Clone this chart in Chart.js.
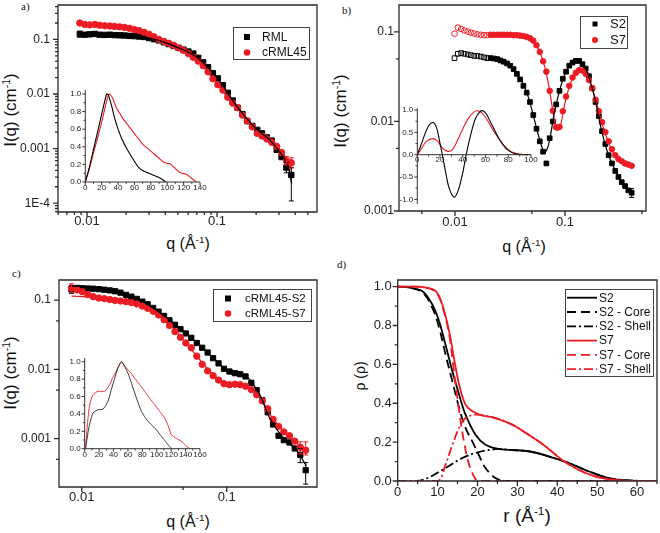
<!DOCTYPE html>
<html><head><meta charset="utf-8">
<script src="https://cdn.jsdelivr.net/npm/chart.js@4.4.0/dist/chart.umd.min.js"></script>
<style>
body{margin:0;background:#fff;}
#wrap{position:relative;width:660px;height:533px;overflow:hidden;font-family:"Liberation Sans",Arial,sans-serif;background:#fff;}
canvas{position:absolute;left:0;top:0;}
.t{position:absolute;white-space:nowrap;color:#111;transform:translate(-50%,-50%);line-height:1;}
.rot{transform:translate(-50%,-50%) rotate(-90deg);}
.sup{font-size:0.62em;position:relative;top:-0.6em;}
.pl{position:absolute;font-family:"Liberation Serif","Times New Roman",serif;font-size:11px;color:#111;line-height:1;}
</style></head>
<body><div id="wrap">
<div class="pl" style="left:21px;top:1px">a)</div>
<div class="pl" style="left:342px;top:5px">b)</div>
<div class="pl" style="left:12px;top:268px">c)</div>
<div class="pl" style="left:337px;top:259px">d)</div>
<div class="t rot" style="left:10px;top:110px;font-size:17px">I(q) (cm<span class="sup">-1</span>)</div>
<div class="t" style="left:188px;top:244px;font-size:16px">q (Å<span class="sup">-1</span>)</div>
<div class="t rot" style="left:340px;top:111px;font-size:17px">I(q) (cm<span class="sup">-1</span>)</div>
<div class="t" style="left:524px;top:247px;font-size:16px">q (Å<span class="sup">-1</span>)</div>
<div class="t rot" style="left:10px;top:373px;font-size:17px">I(q) (cm<span class="sup">-1</span>)</div>
<div class="t" style="left:188px;top:522px;font-size:16px">q (Å<span class="sup">-1</span>)</div>
<div class="t rot" style="left:360px;top:376px;font-size:14px">ρ (ρ)</div>
<div class="t" style="left:527px;top:515px;font-size:19px">r (Å<span class="sup">-1</span>)</div>
</div>
<script>
// ================= DATA =================
// ---- Panel a: RML / cRML45 ----
const qA = [0.0088,0.0096,0.0105,0.0115,0.0125,0.0137,0.015,0.0163,0.0178,0.0194,0.0212,0.0231,0.0252,0.0275,0.03,0.0327,0.0357,0.039,0.0425,0.0464,0.0506,0.0552,0.0602,0.0657,0.0717,0.0782,0.0853,0.093,0.1015,0.111,0.121,0.132,0.144,0.157,0.171,0.187,0.204,0.222,0.242,0.264,0.288,0.314,0.342,0.373];
const rmlA = [0.125,0.122,0.124,0.126,0.122,0.121,0.122,0.120,0.119,0.118,0.116,0.115,0.113,0.111,0.106,0.101,0.096,0.089,0.082,0.076,0.070,0.065,0.060,0.055,0.046,0.038,0.031,0.024,0.0193,0.0145,0.0105,0.0076,0.0056,0.0043,0.0032,0.0026,0.0022,0.0019,0.0016,0.0014,0.00095,0.0007,0.00045,0.00033];
const crmlA = [0.200,0.188,0.185,0.188,0.182,0.178,0.176,0.173,0.170,0.166,0.160,0.152,0.145,0.135,0.124,0.112,0.100,0.092,0.085,0.078,0.070,0.063,0.055,0.047,0.040,0.033,0.0255,0.019,0.0148,0.0118,0.0087,0.0068,0.0056,0.0041,0.0032,0.0025,0.0019,0.0017,0.0015,0.0013,0.0011,0.00085,0.0006,0.00055];
const qFitA = [0.0088,0.015,0.025,0.035,0.05,0.07,0.1,0.13,0.16,0.2,0.25,0.3,0.35,0.375];
const rmlFitA = [0.122,0.12,0.113,0.097,0.071,0.047,0.020,0.008,0.0042,0.0023,0.0015,0.0009,0.0005,0.00023];
const crmlFitA = [0.195,0.175,0.146,0.102,0.071,0.042,0.0155,0.0072,0.0042,0.0023,0.0014,0.001,0.0006,0.0004];
const errRmlA = [[0.0088,0.110,0.142],[0.342,0.00036,0.00056],[0.373,0.00011,0.00045]];
const errCrmlA = [[0.0088,0.186,0.214],[0.342,0.0005,0.00072],[0.373,0.00044,0.00068]];
const aXTickVals = [0.01,0.1], aXTickLbls = ['0.01','0.1'];
const aYTickVals = [1e-4,1e-3,0.01,0.1], aYTickLbls = ['1E-4','0.001','0.01','0.1'];
const aLegend = ['RML','cRML45'];
// inset a : p(r)
const rInA_RML = [0,5,10,15,20,26,28,32,36,40,45,50,55,60,65,70,75,80,85,90,95,98];
const pInA_RML = [0,0.17,0.37,0.57,0.77,1.0,0.99,0.87,0.72,0.6,0.48,0.39,0.31,0.235,0.165,0.13,0.11,0.09,0.07,0.05,0.023,0];
const rInA_C45 = [0,5,10,15,20,25,29,33,38,42,46,50,55,60,65,70,75,80,85,90,95,100,103,108,115,120,124,130,136];
const pInA_C45 = [0,0.15,0.33,0.5,0.68,0.88,1.0,0.96,0.84,0.78,0.72,0.67,0.61,0.55,0.49,0.43,0.39,0.35,0.31,0.27,0.23,0.21,0.21,0.17,0.11,0.095,0.085,0.04,0];
const inAXVals = [0,20,40,60,80,100,120,140], inAXLbls = ['0','20','40','60','80','100','120','140'];
const inAYVals = [0,0.2,0.4,0.6,0.8,1.0], inAYLbls = ['0.0','0.2','0.4','0.6','0.8','1.0'];

// ---- Panel b: S2 / S7 ----
const qB = [0.00991,0.01062,0.01138,0.01219,0.01306,0.01396,0.01496,0.01603,0.01718,0.01841,0.01968,0.02109,0.0226,0.02421,0.02594,0.02773,0.02972,0.03184,0.03412,0.03656,0.03908,0.04188,0.04487,0.04808,0.05152,0.05508,0.05902,0.06324,0.06776,0.07261,0.07762,0.08318,0.08913,0.0955,0.1023,0.1094,0.1172,0.1256,0.1346,0.1442,0.1542,0.1652,0.177,0.1897,0.2032,0.2173,0.2328,0.2495,0.2673,0.2864,0.3062,0.3281,0.3516,0.3767,0.4036];
const s2B = [0.051,0.057,0.058,0.057,0.056,0.055,0.054,0.054,0.053,0.052,0.051,0.051,0.0505,0.0497,0.048,0.0465,0.0445,0.042,0.0385,0.034,0.0295,0.025,0.021,0.0165,0.0118,0.0083,0.006,0.0046,0.0034,0.0065,0.0100,0.0155,0.022,0.030,0.036,0.042,0.0455,0.0475,0.0475,0.0437,0.039,0.032,0.0235,0.0165,0.0115,0.0078,0.0056,0.0042,0.0034,0.0028,0.0024,0.0021,0.0019,0.0017,0.0016];
const s7B = [0.0957,0.112,0.108,0.104,0.101,0.098,0.096,0.094,0.093,0.092,0.092,0.093,0.093,0.093,0.093,0.093,0.093,0.093,0.092,0.092,0.091,0.090,0.088,0.085,0.080,0.071,0.060,0.047,0.036,0.022,0.0132,0.0086,0.0087,0.013,0.019,0.025,0.031,0.035,0.0375,0.037,0.034,0.029,0.0235,0.0175,0.013,0.0098,0.0076,0.006,0.0049,0.0042,0.0038,0.0036,0.0034,0.0033,0.0032];
const bOpenCount = 11;
const qFitS2B = [0.02,0.03,0.04,0.045,0.05,0.055,0.06,0.065,0.07,0.075,0.08,0.09,0.1,0.11,0.12,0.13,0.14,0.155,0.17,0.19,0.21,0.24,0.28,0.33,0.4];
const fitS2B = [0.051,0.0437,0.029,0.021,0.0135,0.0085,0.0058,0.0045,0.0052,0.0078,0.0125,0.023,0.034,0.042,0.0465,0.0476,0.0455,0.038,0.028,0.0165,0.009,0.0048,0.003,0.0021,0.00163];
const qFitS7B = [0.02,0.03,0.04,0.045,0.05,0.055,0.06,0.065,0.07,0.075,0.08,0.085,0.09,0.1,0.11,0.12,0.13,0.14,0.155,0.17,0.19,0.21,0.24,0.28,0.33,0.4];
const fitS7B = [0.092,0.093,0.091,0.088,0.082,0.071,0.057,0.042,0.028,0.017,0.0105,0.008,0.0085,0.016,0.025,0.032,0.0365,0.0375,0.034,0.027,0.0175,0.011,0.0065,0.0043,0.0036,0.0032];
const errS2B = [[0.4036,0.00142,0.00178]];
const bXTickVals = [0.01,0.1], bXTickLbls = ['0.01','0.1'];
const bYTickVals = [1e-3,0.01,0.1], bYTickLbls = ['0.001','0.01','0.1'];
const bLegend = ['S2','S7'];
// inset b
const rInB_S2 = [0,3,6.5,10,13.8,17,20,22,25,28,32.3,36,40,43,47,51,55,57.8,61,65,68,72,77,81,86,90,97];
const pInB_S2 = [0,0.2,0.45,0.65,0.72,0.6,0.25,0,-0.4,-0.75,-0.95,-0.8,-0.4,0,0.45,0.8,0.96,0.985,0.9,0.7,0.55,0.35,0.17,0.08,0.02,0.005,0];
const rInB_S7 = [0,4,8,13.8,18,22,27,31,35,40,45,50,53.4,57,61,65,70,74,78,83,88,93,99];
const pInB_S7 = [0,0.15,0.3,0.36,0.3,0.15,0.075,0.12,0.3,0.58,0.82,0.96,0.985,0.93,0.8,0.62,0.42,0.28,0.16,0.06,0.02,0.005,0];
const inBXVals = [0,20,40,60,80,100], inBXLbls = ['0','20','40','60','80','100'];
const inBYVals = [-1,-0.5,0,0.5,1], inBYLbls = ['-1.0','-0.5','0.0','0.5','1.0'];

// ---- Panel c: cRML45-S2 / cRML45-S7 ----
const qC = [0.0085,0.0093,0.0101,0.011,0.012,0.0131,0.0143,0.0156,0.017,0.0185,0.0202,0.022,0.024,0.0262,0.0285,0.0311,0.0339,0.037,0.0403,0.044,0.048,0.0523,0.057,0.0622,0.0678,0.0739,0.0806,0.0879,0.0958,0.1045,0.114,0.124,0.135,0.148,0.161,0.176,0.192,0.209,0.228,0.248,0.271,0.295,0.322,0.351];
const s2C = [0.142,0.150,0.148,0.147,0.146,0.144,0.141,0.138,0.134,0.128,0.119,0.112,0.104,0.095,0.087,0.077,0.068,0.059,0.051,0.044,0.038,0.033,0.0285,0.024,0.0205,0.0175,0.0145,0.0122,0.0102,0.0093,0.0088,0.0085,0.0079,0.0064,0.005,0.0036,0.0024,0.0016,0.0011,0.00095,0.00088,0.00072,0.00058,0.00035];
const s7C = [0.150,0.140,0.132,0.120,0.112,0.107,0.105,0.102,0.099,0.097,0.095,0.092,0.088,0.082,0.076,0.069,0.061,0.052,0.043,0.035,0.029,0.024,0.0205,0.0155,0.0118,0.0095,0.0081,0.0070,0.0062,0.0060,0.0061,0.0060,0.0057,0.0051,0.0043,0.0035,0.0027,0.0019,0.0015,0.00125,0.0011,0.00092,0.00075,0.00068];
const qFitC = [0.0085,0.012,0.017,0.024,0.033,0.045,0.06,0.08,0.1,0.12,0.14,0.17,0.2,0.25,0.3,0.355];
const fitS2C = [0.16,0.152,0.137,0.106,0.071,0.043,0.026,0.0148,0.0098,0.0087,0.0076,0.0042,0.0019,0.00098,0.0007,0.0004];
const fitS7C = [0.114,0.111,0.104,0.092,0.066,0.035,0.017,0.0085,0.0063,0.006,0.0056,0.0039,0.0022,0.00125,0.0009,0.0006];
const errS2C = [[0.0085,0.125,0.16],[0.322,0.00045,0.00072],[0.351,0.00022,0.00045]];
const errS7C = [[0.0085,0.13,0.172],[0.322,0.0006,0.0009],[0.351,0.00058,0.0009]];
const cXTickVals = [0.01,0.1], cXTickLbls = ['0.01','0.1'];
const cYTickVals = [1e-3,0.01,0.1], cYTickLbls = ['0.001','0.01','0.1'];
const cLegend = ['cRML45-S2','cRML45-S7'];
// inset c
const rInC_S2 = [0,1,6,11.5,18.5,25.4,32.3,37,41.6,46,50.9,55,60.1,65,69.4,74,78.7,83,87.9,92,97.2,102,106.4,111,115.7,120.3];
const pInC_S2 = [0,0,0.25,0.41,0.448,0.455,0.544,0.68,0.81,0.93,1.0,0.95,0.867,0.75,0.64,0.53,0.43,0.37,0.315,0.28,0.238,0.19,0.143,0.095,0.046,0];
const rInC_S7 = [0,1,4,6.9,11.5,18.5,27.8,34.7,39,43.9,50.9,55,60.1,65,69.4,76,83.3,90,97.2,104,111,116,120.3,127,134.2,140,145.8];
const pInC_S7 = [0,0,0.3,0.505,0.62,0.66,0.66,0.736,0.82,0.89,1.0,0.96,0.905,0.86,0.81,0.74,0.66,0.58,0.505,0.43,0.353,0.26,0.161,0.12,0.085,0.04,0];
const inCXVals = [0,20,40,60,80,100,120,140,160], inCXLbls = ['0','20','40','60','80','100','120','140','160'];
const inCYVals = [0,0.2,0.4,0.6,0.8,1.0], inCYLbls = ['0.0','0.2','0.4','0.6','0.8','1.0'];

// ---- Panel d: density profiles ----
const rD_S2 = [0,3,6.2,8.7,10.4,12,13.7,15.4,17,19.5,22,25.3,28,32.8,37.8,42.8,47.8,52.8,57.8,62,65];
const pD_S2 = [1,0.995,0.976,0.907,0.82,0.70,0.565,0.444,0.341,0.238,0.187,0.165,0.16,0.153,0.127,0.093,0.05,0.015,0.003,0,0];
const rD_S2core = [0,3,6.2,8.7,10.4,12,13.7,15.4,17,18.7,20.3,22,24.5,27,30,65];
const pD_S2core = [1,0.995,0.97,0.89,0.787,0.65,0.513,0.376,0.273,0.204,0.135,0.067,0.015,0,0,0];
const rD_S2shell = [0,4.7,7.9,12,16.2,20.3,25.3,28,32.8,37.8,42.8,47.8,52.8,57.8,65];
const pD_S2shell = [0,0,0.019,0.067,0.118,0.149,0.165,0.16,0.153,0.127,0.093,0.05,0.015,0.003,0];
const rD_S7 = [0,4,7.1,9.6,11.2,12.9,14.1,15.4,17,18.7,21.2,24.5,28.7,32.8,37,41.1,45.3,49.5,53.6,57.8,62,65];
const pD_S7 = [1,1,0.995,0.976,0.907,0.77,0.633,0.496,0.393,0.359,0.338,0.324,0.29,0.238,0.179,0.11,0.058,0.024,0.007,0,0,0];
const rD_S7core = [0,7.1,9.6,11.2,12.9,14.1,15.4,16.6,17.9,19.5,20.5,65];
const pD_S7core = [1,0.995,0.97,0.9,0.753,0.565,0.359,0.204,0.084,0.01,0,0];
const rD_S7shell = [0,10,12,13.7,15.4,17,19.5,21.2,24.5,28.7,32.8,37,41.1,45.3,49.5,53.6,57.8,65];
const pD_S7shell = [0,0,0.084,0.187,0.273,0.324,0.341,0.338,0.324,0.29,0.238,0.179,0.11,0.058,0.024,0.007,0,0];
const dXTickVals = [0,10,20,30,40,50,60], dXTickLbls = ['0','10','20','30','40','50','60'];
const dYTickVals = [0,0.2,0.4,0.6,0.8,1.0], dYTickLbls = ['0.0','0.2','0.4','0.6','0.8','1.0'];
const dLegend = ['S2','S2 - Core','S2 - Shell','S7','S7 - Core','S7 - Shell'];

// ================= RENDERING =================
Chart.defaults.font.family = '"Liberation Sans", Arial, sans-serif';
Chart.defaults.color = '#222';
const RED = '#ec1c24', BLK = '#000000';
const W = 660, H = 533;
const pts = (xs, ys) => xs.map((x, i) => ({x, y: ys[i]}));
function newCanvas(){ const c = document.createElement('canvas'); c.width = W; c.height = H; document.getElementById('wrap').appendChild(c); return c; }
function logTicks(min, max, mults){ const out = []; for (let e = Math.floor(Math.log10(min)) - 1; e <= Math.ceil(Math.log10(max)); e++){ for (const m of mults){ const v = Number((m * Math.pow(10, e)).toPrecision(6)); if (v >= min * 0.9999 && v <= max * 1.0001) out.push(v); } } return out; }
function linTicks(min, max, step){ const out = []; const n0 = Math.ceil(min / step - 1e-9), n1 = Math.floor(max / step + 1e-9); for (let n = n0; n <= n1; n++) out.push(Number((n * step).toFixed(6))); return out; }
function lblFor(vals, lbls){ return v => { for (let i = 0; i < vals.length; i++){ if (Math.abs(v - vals[i]) <= Math.abs(vals[i]) * 1e-6 + 1e-9) return lbls[i]; } return ''; }; }
function axis(o){
  const isLog = o.type === 'logarithmic';
  return {
    type: o.type, min: o.min, max: o.max, position: o.position,
    grid: {display: false, drawTicks: false}, border: {display: false},
    ticks: {autoSkip: false, maxRotation: 0, minRotation: 0, padding: o.pad, font: {size: o.fs}, color: o.color || '#222', callback: lblFor(o.vals, o.lbls)},
    afterBuildTicks: s => { const arr = isLog ? logTicks(o.min, o.max, o.minor) : linTicks(o.min, o.max, o.minor); s.ticks = arr.map(v => ({value: v})); },
    afterFit: s => { if (!o.floating){ if (o.dir === 'x') s.height = o.size; else s.width = o.size; } s.paddingTop = 0; s.paddingBottom = 0; s.paddingLeft = 0; s.paddingRight = 0; }
  };
}
const framePlugin = { id: 'frame', afterDatasetsDraw(chart, args, o){
  if (!o || !o.on) return;
  const ctx = chart.ctx, xs = chart.scales.x, ys = chart.scales.y, a = chart.chartArea;
  ctx.save(); ctx.strokeStyle = o.color; ctx.lineWidth = o.lw;
  const xAxisY = (o.xAt != null) ? ys.getPixelForValue(o.xAt) : a.bottom;
  ctx.beginPath();
  if (o.box){ ctx.rect(a.left, a.top, a.right - a.left, a.bottom - a.top); }
  else { ctx.moveTo(a.left, a.top); ctx.lineTo(a.left, a.bottom); ctx.moveTo(a.left, xAxisY); ctx.lineTo(a.right, xAxisY); }
  ctx.stroke();
  ctx.beginPath();
  for (const t of xs.ticks){ const p = xs.getPixelForValue(t.value); const len = t.label ? o.major : o.minor; ctx.moveTo(p, xAxisY); ctx.lineTo(p, xAxisY + len); }
  for (const t of ys.ticks){ const p = ys.getPixelForValue(t.value); const len = t.label ? o.major : o.minor; ctx.moveTo(a.left, p); ctx.lineTo(a.left - len, p); }
  ctx.stroke(); ctx.restore();
}};
const errPlugin = { id: 'errbars', afterDatasetsDraw(chart, args, o){
  if (!o || !o.sets) return;
  const ctx = chart.ctx, xs = chart.scales.x, ys = chart.scales.y;
  ctx.save(); ctx.lineWidth = 1;
  for (const s of o.sets){ ctx.strokeStyle = s.color; ctx.beginPath();
    for (const [x, lo, hi] of s.data){ const px = xs.getPixelForValue(x), p1 = ys.getPixelForValue(lo), p2 = ys.getPixelForValue(hi);
      ctx.moveTo(px, p1); ctx.lineTo(px, p2); ctx.moveTo(px - 2.5, p1); ctx.lineTo(px + 2.5, p1); ctx.moveTo(px - 2.5, p2); ctx.lineTo(px + 2.5, p2); }
    ctx.stroke(); }
  ctx.restore();
}};
const legendPlugin = { id: 'boxLegend', afterDraw(chart, args, o){
  if (!o || !o.items) return;
  const ctx = chart.ctx; ctx.save();
  ctx.fillStyle = '#fff'; ctx.fillRect(o.x, o.y, o.w, o.h);
  ctx.strokeStyle = '#444'; ctx.lineWidth = 1; ctx.strokeRect(o.x + 0.5, o.y + 0.5, o.w, o.h);
  ctx.font = o.fs + 'px "Liberation Sans", Arial, sans-serif'; ctx.textBaseline = 'middle';
  o.items.forEach((it, i) => {
    const cy = o.y + o.first + i * o.rowH;
    ctx.fillStyle = it.color; ctx.strokeStyle = it.color;
    if (it.kind === 'rect'){ ctx.fillRect(o.markX - it.s / 2, cy - it.s / 2, it.s, it.s); }
    else if (it.kind === 'circle'){ ctx.beginPath(); ctx.arc(o.markX, cy, it.s / 2, 0, Math.PI * 2); ctx.fill(); }
    else { ctx.lineWidth = 1.8; ctx.setLineDash(it.dash || []); ctx.beginPath(); ctx.moveTo(o.lineX0, cy); ctx.lineTo(o.lineX1, cy); ctx.stroke(); ctx.setLineDash([]); }
    ctx.fillStyle = '#111'; ctx.fillText(it.label, o.textX, cy + 0.5);
  });
  ctx.restore();
}};
function makeChart(c){
  const pad = {left: c.L - c.y.size, top: c.T, right: W - c.R, bottom: H - c.B - (c.x.floating ? 0 : c.x.size)};
  return new Chart(newCanvas(), {
    type: 'scatter',
    data: {datasets: c.datasets},
    options: {
      responsive: false, animation: false, devicePixelRatio: 1, events: [],
      layout: {padding: pad},
      scales: {x: axis(Object.assign({dir: 'x'}, c.x)), y: axis(Object.assign({dir: 'y'}, c.y))},
      plugins: {legend: {display: false}, tooltip: {enabled: false}, frame: c.frame, boxLegend: c.legend || {}, errbars: c.err || {}}
    },
    plugins: [framePlugin, errPlugin, legendPlugin]
  });
}
const scat = (data, color, style, r, bg) => ({data, showLine: false, pointStyle: style, pointRadius: r, pointBorderWidth: 1, pointBorderColor: color, pointBackgroundColor: bg || color, borderColor: color, backgroundColor: color});
const line = (data, color, w, dash, tension) => ({data, showLine: true, pointRadius: 0, borderColor: color, borderWidth: w, borderDash: dash || [], tension: tension == null ? 0.35 : tension, fill: false});
const mainFrame = {on: true, box: true, color: '#2a2a2a', lw: 1.3, major: 5, minor: 3};
const insetFrame = {on: true, box: false, color: '#333', lw: 1, major: 3, minor: 1.8};

// ---- a ----
makeChart({L: 58, T: 2, R: 317, B: 212,
  x: {type: 'logarithmic', min: 0.00598, max: 0.588, minor: [1,2,3,4,5,6,7,8,9], vals: aXTickVals, lbls: aXTickLbls, fs: 13, pad: 2, size: 20},
  y: {type: 'logarithmic', min: 6.9e-5, max: 0.427, minor: [1,2,3,4,5,6,7,8,9], vals: aYTickVals, lbls: aYTickLbls, fs: 12, pad: 8, size: 50},
  datasets: [line(pts(qFitA, rmlFitA), BLK, 1.3), line(pts(qFitA, crmlFitA), RED, 1.3),
    scat(pts(qA, crmlA), RED, 'circle', 3.2), scat(pts(qA, rmlA), BLK, 'rect', 3.8)],
  frame: mainFrame,
  err: {sets: [{color: BLK, data: errRmlA}, {color: RED, data: errCrmlA}]},
  legend: {x: 233, y: 27, w: 76, h: 32, first: 10, rowH: 15.5, fs: 12, markX: 247, textX: 262,
    items: [{label: aLegend[0], kind: 'rect', color: BLK, s: 6}, {label: aLegend[1], kind: 'circle', color: RED, s: 6.5}]}
});
makeChart({L: 85.3, T: 90, R: 200, B: 182,
  x: {type: 'linear', min: 0, max: 140, minor: 10, vals: inAXVals, lbls: inAXLbls, fs: 8, pad: 1, size: 12},
  y: {type: 'linear', min: 0, max: 1.045, minor: 0.1, vals: inAYVals, lbls: inAYLbls, fs: 8, pad: 4, size: 20},
  datasets: [line(pts(rInA_RML, pInA_RML), BLK, 1.1, [], 0.2), line(pts(rInA_C45, pInA_C45), RED, 1.1, [], 0.2)],
  frame: insetFrame
});

// ---- b ----
const openBg = (color) => qB.map((q, i) => i < bOpenCount ? 'rgba(255,255,255,0)' : color);
makeChart({L: 399, T: 4, R: 646, B: 211,
  x: {type: 'logarithmic', min: 0.0031, max: 0.545, minor: [1,5], vals: bXTickVals, lbls: bXTickLbls, fs: 13, pad: 4, size: 20},
  y: {type: 'logarithmic', min: 0.001, max: 0.2, minor: [1,5], vals: bYTickVals, lbls: bYTickLbls, fs: 12, pad: 5, size: 50},
  datasets: [line(pts(qFitS2B, fitS2B), BLK, 1.2), line(pts(qFitS7B, fitS7B), RED, 1.2),
    scat(pts(qB, s7B), RED, 'circle', 2.8, openBg(RED)), scat(pts(qB, s2B), BLK, 'rect', 3.3, openBg(BLK))],
  frame: mainFrame,
  err: {sets: [{color: BLK, data: errS2B}]},
  legend: {x: 580, y: 16, w: 47, h: 32, first: 8, rowH: 16, fs: 13, markX: 595, textX: 610,
    items: [{label: bLegend[0], kind: 'rect', color: BLK, s: 5}, {label: bLegend[1], kind: 'circle', color: RED, s: 6}]}
});
makeChart({L: 417.3, T: 108.3, R: 531, B: 204,
  x: {type: 'linear', min: 0, max: 100, minor: 10, vals: inBXVals, lbls: inBXLbls, fs: 8, pad: 0, size: 12, floating: true, position: {y: 0}},
  y: {type: 'linear', min: -1.105, max: 1.04, minor: 0.25, vals: inBYVals, lbls: inBYLbls, fs: 8, pad: 4, size: 20},
  datasets: [line(pts(rInB_S2, pInB_S2), BLK, 1.1, [], 0.3), line(pts(rInB_S7, pInB_S7), RED, 1.1, [], 0.3)],
  frame: Object.assign({}, insetFrame, {xAt: 0})
});

// ---- c ----
makeChart({L: 59, T: 280, R: 317, B: 487,
  x: {type: 'logarithmic', min: 0.00697, max: 0.42, minor: [1,5], vals: cXTickVals, lbls: cXTickLbls, fs: 13, pad: 3, size: 20},
  y: {type: 'logarithmic', min: 2.0e-4, max: 0.195, minor: [1,5], vals: cYTickVals, lbls: cYTickLbls, fs: 12, pad: 8, size: 50},
  datasets: [line(pts(qFitC, fitS2C), BLK, 1.3), line(pts(qFitC, fitS7C), RED, 1.3),
    scat(pts(qC, s7C), RED, 'circle', 3.2), scat(pts(qC, s2C), BLK, 'rect', 3.7)],
  frame: mainFrame,
  err: {sets: [{color: BLK, data: errS2C}, {color: RED, data: errS7C}]},
  legend: {x: 213, y: 289, w: 98, h: 32, first: 9.5, rowH: 15, fs: 11.5, markX: 228, textX: 245,
    items: [{label: cLegend[0], kind: 'rect', color: BLK, s: 6}, {label: cLegend[1], kind: 'circle', color: RED, s: 6.5}]}
});
makeChart({L: 84.7, T: 358, R: 200, B: 448.7,
  x: {type: 'linear', min: 0, max: 160, minor: 10, vals: inCXVals, lbls: inCXLbls, fs: 8, pad: 1, size: 12},
  y: {type: 'linear', min: 0, max: 1.0425, minor: 0.1, vals: inCYVals, lbls: inCYLbls, fs: 8, pad: 4, size: 20},
  datasets: [line(pts(rInC_S2, pInC_S2), '#222', 0.9, [], 0.2), line(pts(rInC_S7, pInC_S7), RED, 0.9, [], 0.2)],
  frame: insetFrame
});

// ---- d ----
const CORE = [9, 5], SHELL = [9, 3, 2, 3];
makeChart({L: 397.7, T: 280, R: 657, B: 481,
  x: {type: 'linear', min: 0, max: 65, minor: 5, vals: dXTickVals, lbls: dXTickLbls, fs: 13, pad: 4, size: 20},
  y: {type: 'linear', min: 0, max: 1.034, minor: 0.1, vals: dYTickVals, lbls: dYTickLbls, fs: 13, pad: 6, size: 50},
  datasets: [
    line(pts(rD_S7, pD_S7), RED, 1.8), line(pts(rD_S7core, pD_S7core), RED, 1.8, CORE), line(pts(rD_S7shell, pD_S7shell), RED, 1.8, SHELL),
    line(pts(rD_S2, pD_S2), BLK, 1.8), line(pts(rD_S2core, pD_S2core), BLK, 1.8, CORE), line(pts(rD_S2shell, pD_S2shell), BLK, 1.8, SHELL)],
  frame: mainFrame,
  legend: {x: 565, y: 289, w: 88, h: 87, first: 8.7, rowH: 14.3, fs: 12, lineX0: 567, lineX1: 597, textX: 599,
    items: [{label: dLegend[0], kind: 'line', color: BLK}, {label: dLegend[1], kind: 'line', color: BLK, dash: CORE}, {label: dLegend[2], kind: 'line', color: BLK, dash: SHELL},
            {label: dLegend[3], kind: 'line', color: RED}, {label: dLegend[4], kind: 'line', color: RED, dash: CORE}, {label: dLegend[5], kind: 'line', color: RED, dash: SHELL}]}
});
</script>
</body></html>
